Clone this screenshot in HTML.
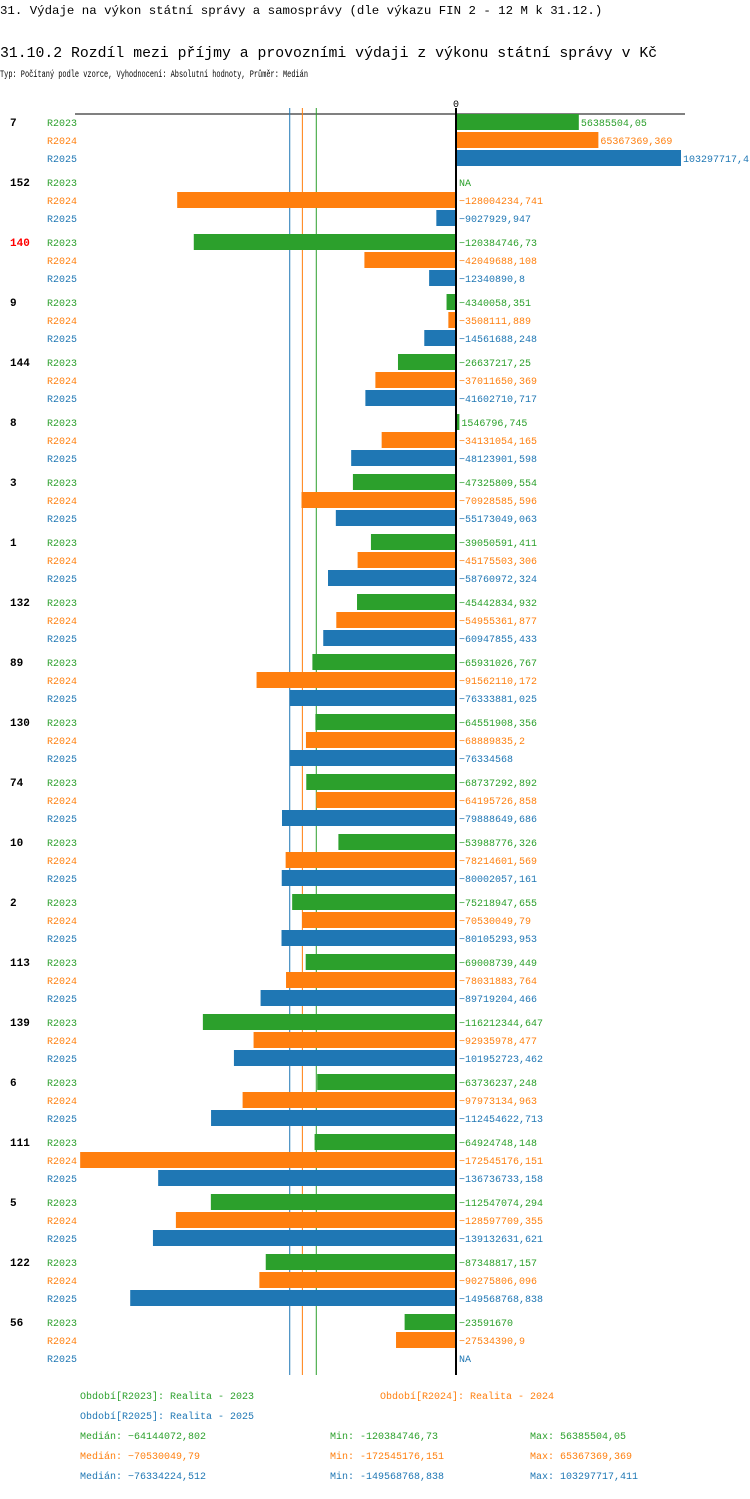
<!DOCTYPE html>
<html><head><meta charset="utf-8"><style>
body{margin:0;background:#fff;}
svg text{font-family:"Liberation Mono","DejaVu Sans Mono",monospace;}
</style></head><body>
<svg id="chart" width="750" height="1494" xmlns="http://www.w3.org/2000/svg">
<text x="0" y="14" font-size="12.4">31. Výdaje na výkon státní správy a samosprávy (dle výkazu FIN 2 - 12 M k 31.12.)</text>
<text x="0" y="57" font-size="14.8">31.10.2 Rozdíl mezi příjmy a provozními výdaji z výkonu státní správy v Kč</text>
<text x="0" y="77" font-size="10" textLength="308" lengthAdjust="spacingAndGlyphs">Typ: Počítaný podle vzorce, Vyhodnocení: Absolutní hodnoty, Průměr: Medián</text>
<g id="plot"></g>
</svg>
<script>
const groups=["7","152","140","9","144","8","3","1","132","89","130","74","10","2","113","139","6","111","5","122","56"];
const series=["R2023","R2024","R2025"];
const v2023=[56385504.05,null,-120384746.73,-4340058.351,-26637217.25,1546796.745,-47325809.554,-39050591.411,-45442834.932,-65931026.767,-64551908.356,-68737292.892,-53988776.326,-75218947.655,-69008739.449,-116212344.647,-63736237.248,-64924748.148,-112547074.294,-87348817.157,-23591670];
const v2024=[65367369.369,-128004234.741,-42049688.108,-3508111.889,-37011650.369,-34131054.165,-70928585.596,-45175503.306,-54955361.877,-91562110.172,-68889835.2,-64195726.858,-78214601.569,-70530049.79,-78031883.764,-92935978.477,-97973134.963,-172545176.151,-128597709.355,-90275806.096,-27534390.9];
const v2025=[103297717.4,-9027929.947,-12340890.8,-14561688.248,-41602710.717,-48123901.598,-55173049.063,-58760972.324,-60947855.433,-76333881.025,-76334568,-79888649.686,-80002057.161,-80105293.953,-89719204.466,-101952723.462,-112454622.713,-136736733.158,-139132631.621,-149568768.838,null];
const medians=[-64144072.802,-70530049.79,-76334224.512];
const mins=["-120384746,73","-172545176,151","-149568768,838"];
const maxs=["56385504,05","65367369,369","103297717,411"];
const colors=["#2ca02c","#ff7f0e","#1f77b4"];
const all=[v2023,v2024,v2025];
const NS="http://www.w3.org/2000/svg";
const g=document.getElementById('plot');
const x0=456, k=225/103297717.4;
const X=v=>x0+v*k;
const Y=(gi,si)=>122+gi*60+si*18;
function el(t,a,txt){const e=document.createElementNS(NS,t);for(const n in a)e.setAttribute(n,a[n]);if(txt!=null)e.textContent=txt;g.appendChild(e);return e;}
function fmt(v){return String(v).replace('-','−').replace('.',',');}
let e=el('line',{x1:75,x2:685,y1:114,y2:114,stroke:'#000','stroke-width':1});


e=el('text',{x:x0,y:107,'font-size':10,'text-anchor':'middle'},'0');


medians.forEach((m,i)=>{
 const l=el('line',{x1:X(m),x2:X(m),y1:108,y2:1375,stroke:colors[i],'stroke-width':1});
 
 
});
groups.forEach((gr,gi)=>{
 const t=el('text',{x:10,y:Y(gi,0)+4,'font-size':11,'font-weight':'bold',fill:gr==="140"?'#ff0000':'#000'},gr);
 
 
 series.forEach((s,si)=>{
  const y=Y(gi,si);
  const st=el('text',{x:47,y:y+4,'font-size':10,fill:colors[si]},s);
  
  
  const v=all[si][gi];
  if(v==null){
   const n=el('text',{x:459,y:y+4,'font-size':10,fill:colors[si]},'NA');
   
   
   return;
  }
  const xa=Math.min(X(v),x0),w=Math.abs(X(v)-x0);
  const b=el('rect',{x:xa,y:y-8,width:Math.max(w,1),height:16,fill:colors[si]});
  
  
  const lx=v>=0?X(v)+2:459;
  const lt=el('text',{x:lx,y:y+4,'font-size':10,fill:colors[si]},fmt(v));
  
  
 });
});
e=el('line',{x1:x0,x2:x0,y1:108,y2:1375,stroke:'#000','stroke-width':2});


const leg=[[80,1399,"Období[R2023]: Realita - 2023"],[380,1399,"Období[R2024]: Realita - 2024"],[80,1419,"Období[R2025]: Realita - 2025"]];
leg.forEach((l,i)=>{
 const t=el('text',{x:l[0],y:l[1],'font-size':10,fill:colors[i]},l[2]);
 
 
});
medians.forEach((m,i)=>{
 const y=1439+i*20;
 const a=el('text',{x:80,y:y,'font-size':10,fill:colors[i]},'Medián: '+fmt(m));
 
 
 const b=el('text',{x:330,y:y,'font-size':10,fill:colors[i]},'Min: '+mins[i]);
 
 
 const c=el('text',{x:530,y:y,'font-size':10,fill:colors[i]},'Max: '+maxs[i]);
 
 
});
</script>
</body></html>
